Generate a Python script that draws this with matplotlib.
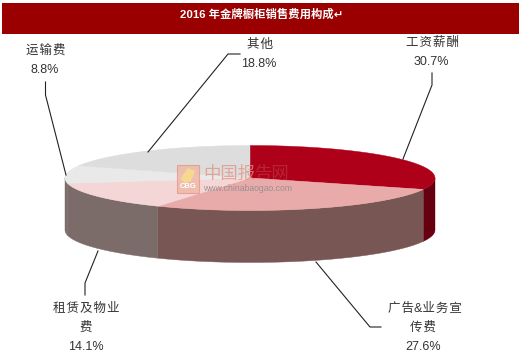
#!/usr/bin/env python3
"""Recreate the 2016 cabinet maker sales expense pie as a flat 3D ellipse."""

import numpy as np
import matplotlib

matplotlib.use("Agg")
import matplotlib.pyplot as plt
from matplotlib.patches import Polygon, Rectangle

TITLE = "2016 年金牌橱柜销售费用构成↵"
CATEGORIES = ["工资薪酬", "广告&业务宣传费", "租赁及物业费", "运输费", "其他"]
SHARES = [30.7, 27.6, 14.1, 8.8, 18.8]
TOP_COLORS = ["#AE0019", "#E9ABAA", "#F5D6D6", "#E9E9E9", "#DDDDDD"]
SIDE_COLORS = ["#660010", "#775653", "#7B6C6A", "#7B6C6A", "#7B6C6A"]

CX, CY, RX, RY, DEPTH = 250, 178, 185, 32.5, 52
FONTS = ["Liberation Sans", "Noto Sans CJK SC", "DejaVu Sans"]
TEXT = "#333333"
LINE = "#222222"


def rim(angles):
    # angles in degrees, clockwise from 12 o'clock
    rad = np.radians(angles)
    return CX + RX * np.sin(rad), CY - RY * np.cos(rad)


plt.rcParams["font.family"] = FONTS
fig = plt.figure(figsize=(5.2, 3.62), dpi=100, facecolor="white")
ax = fig.add_axes([0, 0, 1, 1])
ax.set_xlim(0, 520)
ax.set_ylim(362, 0)
ax.axis("off")

# title band
ax.add_patch(Rectangle((2, 3), 517, 31, facecolor="#9A0000", edgecolor="none"))
ax.text(262, 14.5, TITLE, color="white", fontsize=8.2, fontweight="bold",
        ha="center", va="center")

edges = np.concatenate([[0], np.cumsum(SHARES)]) * 3.6 / (sum(SHARES) / 100)

# side wall, only the front half of the rim shows
for start, end, color in zip(edges[:-1], edges[1:], SIDE_COLORS):
    lo, hi = max(start, 90), min(end, 270)
    if lo >= hi:
        continue
    x, y = rim(np.linspace(lo, hi, 80))
    pts = np.column_stack([np.r_[x, x[::-1]], np.r_[y, y[::-1] + DEPTH]])
    ax.add_patch(Polygon(pts, closed=True, facecolor=color, edgecolor=color,
                         linewidth=0.3, zorder=2))

# top face
for start, end, color in zip(edges[:-1], edges[1:], TOP_COLORS):
    x, y = rim(np.linspace(start, end, 120))
    pts = np.column_stack([np.r_[CX, x], np.r_[CY, y]])
    ax.add_patch(Polygon(pts, closed=True, facecolor=color, edgecolor=color,
                         linewidth=0.3, zorder=3))

# leader lines
leaders = [
    [(45.5, 82), (45.5, 95), (66, 175)],
    [(240, 54), (228, 54), (148, 152)],
    [(432, 73), (432, 85), (403, 159)],
    [(85, 295), (85, 283), (98, 251)],
    [(381, 327), (370, 327), (316, 262)],
]
for line in leaders:
    xs, ys = zip(*line)
    ax.plot(xs, ys, color=LINE, linewidth=0.8, zorder=4)

# labels
labels = [
    (46, 51, "运\u200a输\u200a费"), (45, 70, f"{SHARES[3]}%"),
    (260, 45, "其\u200a他"), (259, 64, f"{SHARES[4]}%"),
    (432, 43, "工\u200a资\u200a薪\u200a酬"), (431, 62, f"{SHARES[0]}%"),
    (86, 309, "租\u200a赁\u200a及\u200a物\u200a业"), (86, 328, "费"), (86, 347, f"{SHARES[2]}%"),
    (425, 309, "广\u200a告&业\u200a务\u200a宣"), (423, 328, "传\u200a费"), (423, 347, f"{SHARES[1]}%"),
]
for x, y, text in labels:
    ax.text(x, y, text, color=TEXT, fontsize=9, ha="center", va="center", zorder=5)

# watermark
ax.add_patch(Rectangle((177, 165), 22, 28, facecolor="#EFB9A8", edgecolor="#E39C8C",
                       linewidth=0.8, alpha=0.85, zorder=6))
ax.add_patch(Polygon([(181, 178), (188, 168), (195, 171), (191, 181), (184, 183)],
                     closed=True, facecolor="#F6D98F", edgecolor="none", zorder=7))
ax.text(188, 187, "CBG", color="white", fontsize=5.5, fontweight="bold",
        ha="center", va="center", zorder=7)
ax.text(229.5, 173.5, "中国报", color="#E58F80", alpha=0.75, fontsize=12.5,
        ha="center", va="center", zorder=6)
ax.text(272, 173.5, "告网", color="#E58F80", alpha=0.25, fontsize=12.5,
        ha="center", va="center", zorder=6)
ax.text(247.5, 188.5, "www.chinabaogao.com", color="#8A8A8A", alpha=0.85, fontsize=6.2,
        ha="center", va="center", zorder=6)

fig.savefig("out.png", dpi=100, facecolor="white")
plt.close(fig)
